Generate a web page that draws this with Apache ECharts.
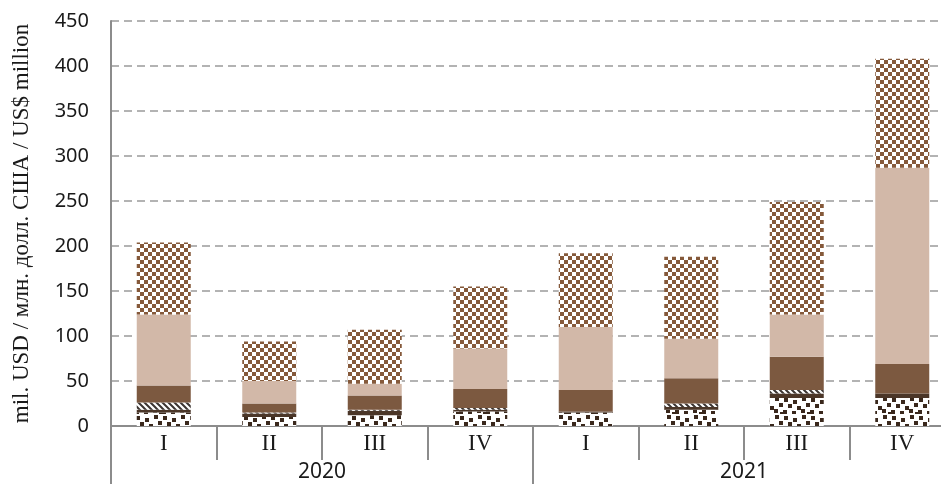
<!DOCTYPE html>
<html>
<head>
<meta charset="utf-8">
<script src="https://cdn.jsdelivr.net/npm/echarts@6/dist/echarts.min.js"></script>
<style>
html,body{margin:0;padding:0;background:#fff;}
#chart{width:941px;height:484px;}
</style>
</head>
<body>
<div id="chart"></div>
<script>
// ---- data ----
const quarters = ['I', 'II', 'III', 'IV', 'I', 'II', 'III', 'IV'];
const years = ['2020', '2021'];
const yTicks = [0, 50, 100, 150, 200, 250, 300, 350, 400, 450];
const seriesDotted  = [15, 10, 12, 16, 15, 18, 31, 31];
const seriesDark    = [3, 4, 5, 2, 1, 3, 5, 5];
const seriesStriped = [8, 1, 1, 2, 0, 4, 4, 0];
const seriesBrown   = [19, 10, 16, 21, 24, 28, 37, 33];
const seriesTan     = [79, 25, 13, 45, 70, 44, 47, 218];
const seriesChecker = [80, 44, 60, 69, 82, 91, 125, 121];
const yTitle = 'mil. USD / млн. долл. США / US$ million';

// ---- textures ----
function makeCanvas(w, h, draw) {
  const c = document.createElement('canvas');
  c.width = w; c.height = h;
  const ctx = c.getContext('2d');
  ctx.fillStyle = '#ffffff';
  ctx.fillRect(0, 0, w, h);
  draw(ctx);
  return c;
}
const checkerCanvas = makeCanvas(8, 8, ctx => {
  ctx.fillStyle = '#85593a';
  ctx.fillRect(0, 0, 4, 4);
  ctx.fillRect(4, 4, 4, 4);
});
const dottedCanvas = makeCanvas(27, 18, ctx => {
  ctx.fillStyle = '#3a281c';
  const pts = [[1,2],[10,4],[19,1],[5,8],[14,10],[23,7],[0,14],[9,15],[18,13],[24,16]];
  pts.forEach(p => ctx.fillRect(p[0], p[1], 4, 4));
});
const stripeCanvas = makeCanvas(6, 6, ctx => {
  ctx.strokeStyle = '#3b3431';
  ctx.lineWidth = 2;
  ctx.beginPath();
  ctx.moveTo(-1, -1); ctx.lineTo(7, 7);
  ctx.moveTo(-4, 2); ctx.lineTo(4, 10);
  ctx.moveTo(2, -4); ctx.lineTo(10, 4);
  ctx.stroke();
});
const pat = c => ({ image: c, repeat: 'repeat' });

const chart = echarts.init(document.getElementById('chart'), null, { renderer: 'canvas' });

function bar(name, data, color) {
  return {
    name: name, type: 'bar', stack: 'total', data: data,
    xAxisIndex: 0, yAxisIndex: 0,
    barWidth: 54,
    itemStyle: { color: color, borderWidth: 0 },
    emphasis: { disabled: true }
  };
}

const axisGray = '#8c8c8c';

chart.setOption({
  animation: false,
  backgroundColor: '#ffffff',
  grid: { left: 111, right: -14, top: 21, bottom: 58, containLabel: false, outerBoundsMode: 'none' },
  xAxis: [
    {
      type: 'category', data: quarters, position: 'bottom',
      boundaryGap: true,
      axisLine: { show: true, lineStyle: { color: axisGray, width: 2 } },
      axisTick: { show: true, interval: 0, length: 34, lineStyle: { color: axisGray, width: 2 } },
      axisLabel: { interval: 0, margin: 6, color: '#1a1a1a', fontFamily: 'Liberation Serif', fontSize: 23 }
    },
    {
      type: 'category', data: years, position: 'bottom',
      boundaryGap: true,
      axisLine: { show: false },
      axisTick: { show: true, interval: 0, length: 58, lineStyle: { color: axisGray, width: 2 } },
      axisLabel: { interval: 0, margin: 36, color: '#1a1a1a', fontFamily: 'Noto Sans', fontSize: 21 }
    }
  ],
  yAxis: {
    type: 'value', min: 0, max: 450, interval: 50,
    name: yTitle, nameLocation: 'middle', nameGap: 78,
    nameTextStyle: { fontFamily: 'Liberation Serif', fontSize: 23, color: '#1a1a1a' },
    axisLine: { show: true, lineStyle: { color: axisGray, width: 2 } },
    axisTick: { show: false },
    axisLabel: {
      margin: 22, color: '#1a1a1a', fontFamily: 'Noto Sans', fontSize: 20,
      formatter: v => (yTicks.indexOf(v) >= 0 ? String(v) : '')
    },
    splitLine: { show: true, lineStyle: { color: '#9a9a9a', width: 1.5, type: [8, 5] } }
  },
  series: [
    bar('s1', seriesDotted, pat(dottedCanvas)),
    bar('s2', seriesDark, '#4b3628'),
    bar('s3', seriesStriped, pat(stripeCanvas)),
    bar('s4', seriesBrown, '#7c5940'),
    bar('s5', seriesTan, '#d2b8a8'),
    bar('s6', seriesChecker, pat(checkerCanvas))
  ]
});
</script>
</body>
</html>
